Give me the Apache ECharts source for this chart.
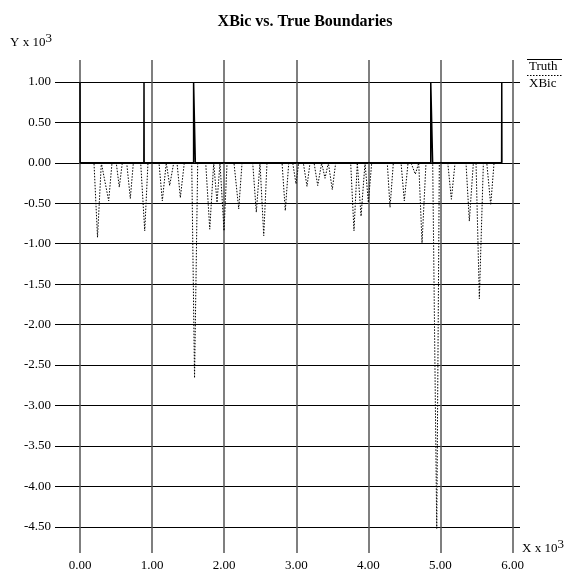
<!DOCTYPE html>
<html>
<head>
<meta charset="utf-8">
<script src="https://cdn.jsdelivr.net/npm/echarts@6/dist/echarts.min.js"></script>
<style>
  html, body { margin: 0; padding: 0; background: #fff; }
  #chart { width: 564px; height: 573px; }
</style>
</head>
<body>
<div id="chart"></div>
<script>
// values (raw units, axes show x 10^3)
const truthX = [0, 2, 886, 888, 890, 1576, 1576, 1600, 1600, 4866, 4866, 4892, 4892, 5849, 5851, 5853];
const truthY = [1000, 0, 0, 1000, 0, 0, 1000, 1000, 0, 0, 1000, 1000, 0, 0, 1000, 0];

const xbicX = [0, 194, 243, 296, 398, 444, 503, 545, 587, 648, 698, 740, 842, 898, 943,
  1096, 1142, 1197, 1244, 1300, 1346, 1392, 1447, 1550, 1589, 1633, 1744, 1800, 1855, 1901, 1942, 1998, 2040,
  2136, 2202, 2248, 2396, 2446, 2497, 2549, 2594, 2803, 2848, 2896, 2951, 2997, 3034, 3098, 3149, 3191,
  3247, 3298, 3353, 3399, 3445, 3500, 3547, 3755, 3801, 3847, 3899, 3954, 4000, 4047,
  4263, 4301, 4347, 4454, 4499, 4551, 4592, 4652, 4699, 4745, 4800, 4893, 4949, 4985,
  5102, 5152, 5203, 5355, 5401, 5457, 5494, 5540, 5596, 5643, 5698, 5744, 5850];
const xbicY = [0, 0, -920, 0, -470, 0, 0, -300, 0, 0, -440, 0, 0, -840, 0,
  0, -470, 0, -280, 0, 0, -430, 0, 0, -2660, 0, 0, -820, 0, -490, 0, -840, 0,
  0, -570, 0, 0, -610, 0, -900, 0, 0, -590, 0, 0, -260, 0, 0, -290, 0,
  0, -280, 0, -190, 0, -330, 0, 0, -840, 0, -660, 0, -490, 0,
  0, -550, 0, 0, -470, 0, 0, -140, 0, -990, 0, 0, -4520, 0,
  0, -450, 0, 0, -720, 0, 0, -1680, 0, 0, -520, 0, 0];

const xTicks = [0, 1000, 2000, 3000, 4000, 5000, 6000];
const yMin = -4500, yMax = 1000, yStep = 500;

const FONT = 'Liberation Serif';
const fmt = v => (v / 1000).toFixed(2);

const chart = echarts.init(document.getElementById('chart'), null, { renderer: 'canvas' });

chart.setOption({
  backgroundColor: '#fff',
  animation: false,
  title: {
    text: 'XBic vs. True Boundaries',
    left: 300, top: 9, textAlign: 'center',
    textStyle: { fontFamily: FONT, fontSize: 16, fontWeight: 'bold', color: '#000' }
  },
  grid: [
    { left: 80, top: 82, width: 432.5, height: 444.8 },   // data
    { left: 55, top: 82, width: 465, height: 444.8 },     // horizontal rules + y labels
    { left: 80, top: 60, width: 432.5, height: 493 }      // vertical rules + x labels
  ],
  xAxis: [
    { gridIndex: 0, type: 'value', min: 0, max: 6000, show: false },
    { gridIndex: 1, type: 'value', min: 0, max: 1, show: false },
    {
      gridIndex: 2, type: 'value', min: xTicks[0], max: xTicks[xTicks.length - 1], interval: 1000,
      axisLine: { show: false }, axisTick: { show: false },
      splitLine: { show: true, lineStyle: { color: '#555', width: 1.5 } },
      axisLabel: { margin: 6, fontFamily: FONT, fontSize: 13, color: '#000', formatter: fmt }
    }
  ],
  yAxis: [
    { gridIndex: 0, type: 'value', min: yMin, max: yMax, show: false },
    {
      gridIndex: 1, type: 'value', min: yMin, max: yMax, interval: yStep,
      axisLine: { show: false }, axisTick: { show: false },
      splitLine: { show: true, lineStyle: { color: '#000', width: 1 } },
      axisLabel: { margin: 4, fontFamily: FONT, fontSize: 13, color: '#000', formatter: fmt }
    },
    { gridIndex: 2, type: 'value', min: 0, max: 1, show: false }
  ],
  series: [
    {
      name: 'Truth', type: 'line', xAxisIndex: 0, yAxisIndex: 0,
      data: truthX.map((x, i) => [x, truthY[i]]),
      showSymbol: false, clip: false,
      lineStyle: { color: '#000', width: 1.5 }
    },
    {
      name: 'XBic', type: 'line', xAxisIndex: 0, yAxisIndex: 0,
      data: xbicX.map((x, i) => [x, xbicY[i]]),
      showSymbol: false, clip: false,
      lineStyle: { color: '#000', width: 1, type: [1.5, 1.5] }
    }
  ],
  graphic: [
    { type: 'text', left: 10, top: 32,
      style: { text: 'Y x 10{s|3}', fill: '#000', font: '13px "Liberation Serif"',
        rich: { s: { fontSize: 13, fontFamily: FONT, verticalAlign: 'top', padding: [0, 0, 8, 0] } } } },
    { type: 'text', left: 522, top: 538,
      style: { text: 'X x 10{s|3}', fill: '#000', font: '13px "Liberation Serif"',
        rich: { s: { fontSize: 13, fontFamily: FONT, verticalAlign: 'top', padding: [0, 0, 8, 0] } } } },
    { type: 'line', shape: { x1: 527, y1: 59.5, x2: 562, y2: 59.5 }, style: { stroke: '#000', lineWidth: 1 } },
    { type: 'text', left: 529, top: 60, style: { text: 'Truth', fill: '#000', font: '13px "Liberation Serif"' } },
    { type: 'line', shape: { x1: 527, y1: 75.5, x2: 562, y2: 75.5 }, style: { stroke: '#000', lineWidth: 1, lineDash: [1.5, 1.5] } },
    { type: 'text', left: 529, top: 77, style: { text: 'XBic', fill: '#000', font: '13px "Liberation Serif"' } }
  ]
});
</script>
</body>
</html>
